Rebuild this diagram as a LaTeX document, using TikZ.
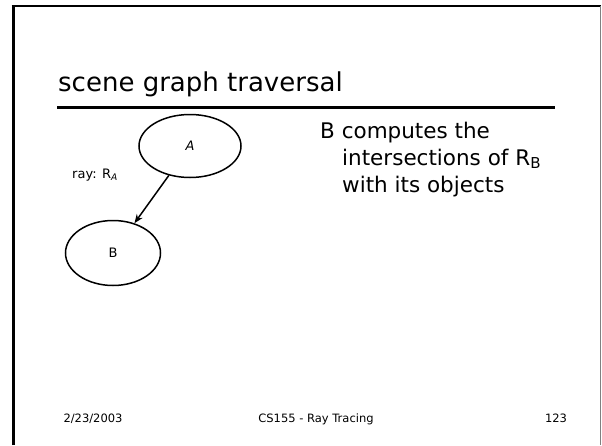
\documentclass[tikz,border=0pt]{standalone}
\usepackage{fontspec}
\setmainfont{DejaVu Sans}
\usetikzlibrary{shapes.geometric,arrows.meta}
\tikzset{
  graphnode/.style={draw, ellipse, line width=1.5pt, minimum width=102pt, minimum height=63pt, inner sep=0pt, font=\fontsize{13}{15}\selectfont},
  edgearrow/.style={-{Stealth[length=9pt,width=7pt]}, line width=1.5pt},
  txt/.style={inner sep=0pt, anchor=base west},
  bodytxt/.style={txt, font=\fontsize{21.5}{25}\selectfont},
  foot/.style={inner sep=0pt, anchor=base, font=\fontsize{11.5}{14}\selectfont},
}
\begin{document}
\begin{tikzpicture}[x=1pt,y=-1pt]
\useasboundingbox (0,0) rectangle (602,445);
% slide frame
\draw[line width=3pt] (13,445) -- (13,6);
\draw[line width=2.5pt] (11.5,6) -- (601,6);
\draw[line width=0.8pt, gray] (600.5,6) -- (600.5,445);
% title
\node[txt, font=\fontsize{26}{30}\selectfont] (title) at (58,91) {scene graph traversal};
\coordinate (ul1) at (57,107);
\coordinate (ul2) at (555,107);
\draw[line width=3pt] (ul1) -- (ul2);
% graph
\node[graphnode] (A) at (190,146) {\textit{A}};
\node[graphnode, minimum width=95pt, minimum height=65pt] (B) at (113,253) {B};
\draw[edgearrow] (A) -- (B);
\node[txt, font=\fontsize{13}{15}\selectfont] (ray) at (72,178) {ray: R\textsubscript{\textit{A}}};
% body text
\node[bodytxt] (t1) at (320,138) {B computes the};
\node[bodytxt] (t2) at (342,165) {intersections of R\textsubscript{B}};
\node[bodytxt] (t3) at (342,192) {with its objects};
% footer
\node[foot] (date) at (93,422) {2/23/2003};
\node[foot] (course) at (316,422) {CS155 - Ray Tracing};
\node[foot] (page) at (556,422) {123};
\end{tikzpicture}
\end{document}
